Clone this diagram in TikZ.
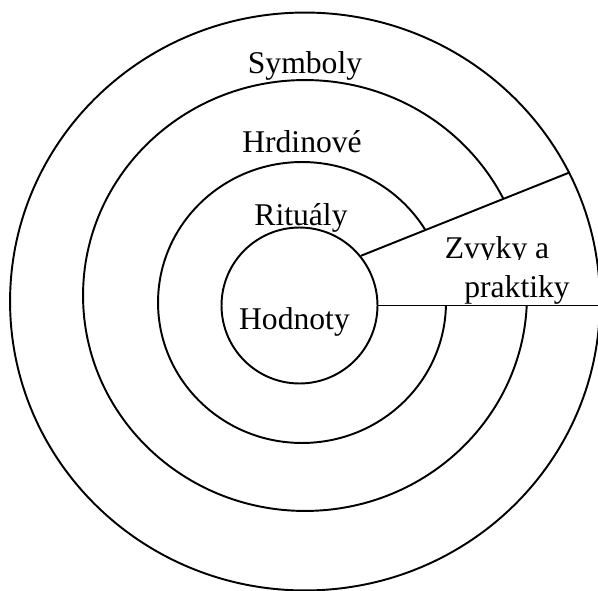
\documentclass[tikz,border=0pt]{standalone}
\usepackage{fontspec}
\setmainfont{Liberation Serif}
\usetikzlibrary{shapes.geometric}
\pgfdeclarelayer{fronte}
\pgfsetlayers{main,fronte}

\begin{document}
\begin{tikzpicture}[
  x=0.02cm, y=-0.02cm,
  font=\fontsize{18}{22}\selectfont,
  anello/.style={draw=black, line width=1.1pt, ellipse, inner sep=0pt},
  filo/.style={draw=black, line width=1.1pt},
  etichetta/.style={inner sep=0pt, anchor=base}
]
\useasboundingbox (0,0) rectangle (598,591);

% Anelli
\begin{pgfonlayer}{fronte}
\node[anello, minimum width=11.8cm, minimum height=11.56cm] (symboly) at (305,301.5) {};
\node[anello, minimum width=3.12cm, minimum height=3.12cm] (hodnoty) at (299.5,305.5) {};
\end{pgfonlayer}
\node[anello, minimum width=8.88cm, minimum height=8.62cm] (hrdinove) at (305,295.5) {};
\node[anello, minimum width=5.76cm, minimum height=5.62cm] (ritualy) at (302,302.5) {};

% Spicchio
\fill[white] (hodnoty.39) -- (symboly.26) -- (symboly.east)
  -- (hodnoty.east -| symboly.east) -- (hodnoty.east) -- cycle;

\begin{pgfonlayer}{fronte}
% Etichette
\node[etichetta] (tsymboly) at (305,74) {Symboly};
\node[etichetta] (thrdinove) at (302,153) {Hrdinové};
\node[etichetta] (tritualy) at (301,226) {Rituály};
\node[etichetta] (thodnoty) at (294.5,329) {Hodnoty};
\node[etichetta] (tzvyky) at (497,258) {Zvyky a};
\node[etichetta, fill=white, text height=21pt, text depth=3pt] (tpraktiky) at (517,297) {praktiky};

% Linee
\draw[filo] (hodnoty.39) -- (symboly.26);
\draw[filo] (hodnoty.east) -- (hodnoty.east -| symboly.east);
\end{pgfonlayer}

\end{tikzpicture}
\end{document}
